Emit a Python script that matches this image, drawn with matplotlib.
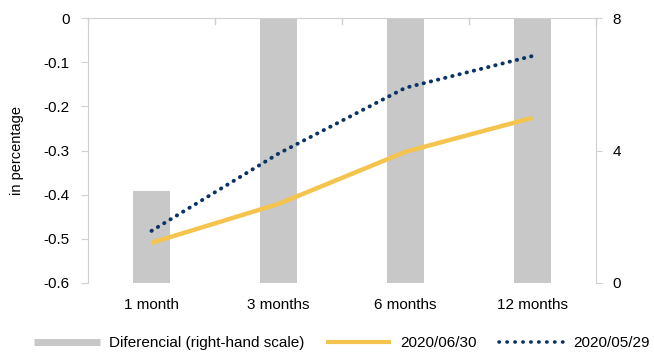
import matplotlib.pyplot as plt
from matplotlib.lines import Line2D
import numpy as np

# data
categories = ['1 month', '3 months', '6 months', '12 months']
diferencial = [2.78, 8.0, 8.0, 8.0]          # right-hand scale
jun30 = [-0.509, -0.421, -0.303, -0.226]
may29 = [-0.482, -0.307, -0.158, -0.086]

plt.rcParams['font.family'] = ['Liberation Sans', 'DejaVu Sans']

grey = '#c8c8c8'
spine = '#d0d0d0'
yellow = '#f4c44e'
navy = '#0a3366'
dots = (0, (0.1, 1.8))

fig = plt.figure(figsize=(6.54, 3.54), dpi=100)
ax = fig.add_axes([88/654, 1 - 283/354, (596 - 88)/654, 265/354])
ax2 = ax.twinx()

x = np.arange(len(categories))

# bars on the right axis, lines on the left axis
ax2.bar(x, diferencial, width=0.285, color=grey, zorder=1)
ax2.set_ylim(0, 8)
ax2.set_yticks([0, 4, 8])

ax.set_zorder(ax2.get_zorder() + 1)
ax.patch.set_visible(False)
ax.plot(x, jun30, color=yellow, lw=3.2, solid_capstyle='butt')
ax.plot(x, may29, color=navy, lw=2.8, linestyle=dots, dash_capstyle='round')

ax.set_xlim(-0.5, len(categories) - 0.5)
ax.set_ylim(-0.6, 0)
ax.set_yticks(np.arange(-0.6, 0.01, 0.1))
ax.set_yticklabels(['-0.6', '-0.5', '-0.4', '-0.3', '-0.2', '-0.1', '0'])
ax.set_ylabel('in percentage', fontsize=10.5, labelpad=14)

# category axis sits at y = 0 (top), with tick marks between categories
ax.set_xticks(x)
ax.set_xticklabels(categories)
ax.tick_params(axis='x', length=0, pad=11)
for b in np.arange(-0.5, len(categories), 1.0):
    ax.plot([b, b], [0, -0.013], color=spine, lw=1, clip_on=False)

for a in (ax, ax2):
    for s in a.spines.values():
        s.set_visible(False)
ax.spines['left'].set_visible(True)
ax.spines['left'].set_color(spine)
ax.spines['top'].set_visible(True)
ax.spines['top'].set_color(spine)
ax2.spines['right'].set_visible(True)
ax2.spines['right'].set_color(spine)

ax.tick_params(axis='y', color=spine, length=5, labelsize=11, pad=8)
ax.tick_params(axis='x', labelsize=11)
ax2.tick_params(axis='y', color=spine, length=4, labelsize=11, pad=8)

# legend
handles = [Line2D([], [], color=grey, lw=5, solid_capstyle='butt'),
           Line2D([], [], color=yellow, lw=3, solid_capstyle='butt'),
           Line2D([], [], color=navy, lw=2.6, linestyle=(0, (0.1, 2.1)),
                  dash_capstyle='round')]
labels = ['Diferencial (right-hand scale)', '2020/06/30', '2020/05/29']
fig.legend(handles, labels, loc='center', bbox_to_anchor=(342/654, 11/354),
           ncol=3, frameon=False, fontsize=11, handlelength=4.3,
           columnspacing=1.4, handletextpad=0.6, borderpad=0, borderaxespad=0)

fig.savefig('out.png', dpi=100)
